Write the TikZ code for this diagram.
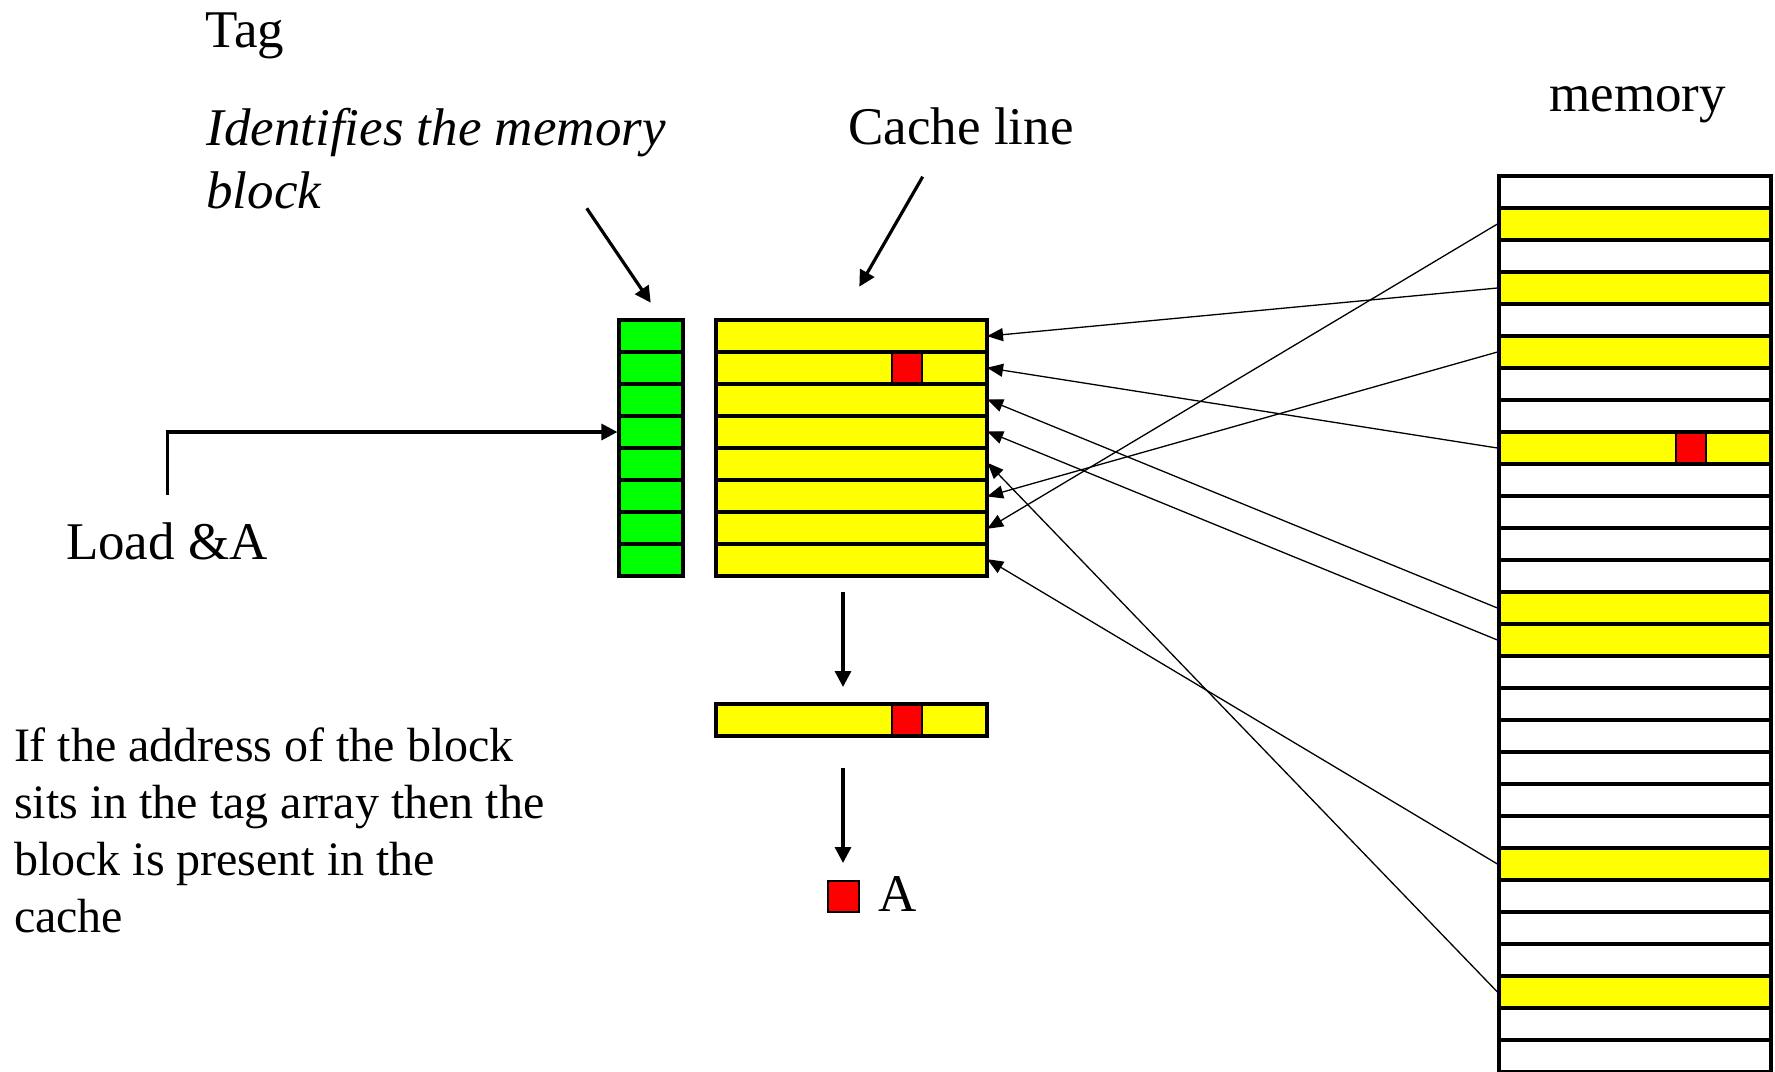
\documentclass[tikz,border=0pt]{standalone}
\usepackage{fontspec}
\setmainfont{Liberation Serif}
\usetikzlibrary{arrows.meta}
\definecolor{cyel}{RGB}{255,255,0}
\definecolor{cgreen}{RGB}{0,255,0}
\definecolor{cred}{RGB}{255,0,0}
\tikzset{
  bigfont/.style={font=\fontsize{26.5pt}{31.8pt}\selectfont},
  itfont/.style={font=\fontsize{26.5pt}{31.8pt}\selectfont\itshape},
  parafont/.style={font=\fontsize{24pt}{28.5pt}\selectfont},
  lbl/.style={inner sep=0pt, anchor=base west},
  cellbox/.style={draw=black, line width=1.6pt, inner sep=0pt, minimum height=16pt},
  tagcell/.style={cellbox, fill=cgreen, minimum width=32pt},
  cachecell/.style={cellbox, fill=cyel, minimum width=135.5pt},
  memcell/.style={cellbox, fill=white, minimum width=136pt},
  memfull/.style={cellbox, fill=cyel, minimum width=136pt},
  word/.style={draw=black, line width=0.8pt, fill=cred, inner sep=0pt, minimum width=15pt, minimum height=14.5pt},
  thickarrow/.style={line width=1.6pt, -{Triangle[length=8pt,width=8pt]}},
  thinarrow/.style={line width=0.65pt, -{Triangle[length=8pt,width=6.5pt]}}
}
\begin{document}
\begin{tikzpicture}[x=0.5pt,y=-0.5pt]
\useasboundingbox (0,0) rectangle (1775,1071);

% tag array and cache
\foreach \i in {0,...,7}{
  \node[tagcell] (t\i) at (651,336+32*\i) {};
  \node[cachecell] (c\i) at (851.5,336+32*\i) {};
}
\node[word] (cw) at (906.7,368) {};

% memory
\foreach \k in {0,...,27}{
  \node[memcell] (m\k) at (1635,192+32*\k) {};
}
\foreach \k in {1,3,5,8,13,14,21,25}{
  \node[memfull] (m\k) at (1635,192+32*\k) {};
}
\node[word] (mw) at (1691,448) {};

% extracted line and word
\node[cachecell] (bar) at (851.5,720) {};
\node[word] (bw) at (906.7,720) {};
\node[word, line width=1pt, minimum width=15.5pt, minimum height=15.5pt] (aw) at (843,896) {};
\node[lbl, bigfont] (alab) at (878,911) {A};

% texts
\node[lbl, bigfont] (tag) at (205,47) {Tag};
\node[lbl, itfont] (id1) at (206,145) {Identifies the memory};
\node[lbl, itfont] (id2) at (206,208) {block};
\node[lbl, bigfont] (cl) at (848,144) {Cache line};
\node[lbl, bigfont] (mem) at (1549,111) {memory};
\node[lbl, bigfont] (load) at (65.7,559) {Load \&A};
\node[lbl, parafont] (p1) at (13.6,761) {If the address of the block};
\node[lbl, parafont] (p2) at (13.6,818) {sits in the tag array then the};
\node[lbl, parafont] (p3) at (13.6,875) {block is present in the};
\node[lbl, parafont] (p4) at (13.6,932) {cache};

% thick arrows
\coordinate (loadstart) at (167.5,495);
\draw[thickarrow] (loadstart) |- (t3.west);
\coordinate (ids) at (586.7,208.3);
\coordinate (ide) at (650.7,302.7);
\draw[thickarrow] (ids) -- (ide);
\coordinate (cls) at (922.7,176.7);
\coordinate (cle) at (859.3,286.7);
\draw[thickarrow] (cls) -- (cle);
\coordinate (d1s) at (843,592);
\coordinate (d1e) at (843,687);
\draw[thickarrow] (d1s) -- (d1e);
\coordinate (d2s) at (843,768);
\coordinate (d2e) at (843,863);
\draw[thickarrow] (d2s) -- (d2e);

% memory to cache connectors
\foreach \k/\j in {1/6,3/0,5/5,8/1,13/2,14/3,21/7,25/4}{
  \draw[thinarrow, shorten >=-0.8pt] (m\k.west) -- (c\j.east);
}
\end{tikzpicture}
\end{document}
